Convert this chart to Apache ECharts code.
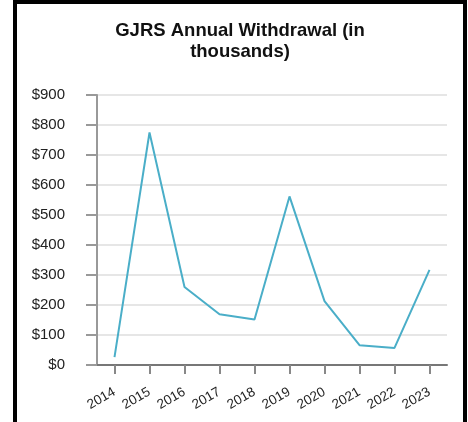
<!DOCTYPE html>
<html>
<head>
<meta charset="utf-8">
<script src="https://cdn.jsdelivr.net/npm/echarts@6/dist/echarts.min.js"></script>
<style>
  html, body { margin: 0; padding: 0; background: #fff; }
  #chart { width: 468px; height: 422px; }
</style>
</head>
<body>
<div id="chart"></div>
<script>
// Annual withdrawals, in thousands of dollars
const years = ['2014', '2015', '2016', '2017', '2018', '2019', '2020', '2021', '2022', '2023'];
const withdrawals = [26, 775, 260, 169, 152, 562, 213, 66, 57, 317];
const yTicks = { min: 0, max: 900, step: 100 };

const chart = echarts.init(document.getElementById('chart'), null, { renderer: 'canvas' });

chart.setOption({
  animation: false,
  backgroundColor: '#ffffff',
  title: {
    text: 'GJRS Annual Withdrawal (in\nthousands)',
    left: 235,
    top: 15,
    textAlign: 'center',
    textStyle: {
      fontFamily: 'Liberation Sans, Arial, sans-serif',
      fontSize: 18.5,
      fontWeight: 'bold',
      color: '#111',
      lineHeight: 21
    }
  },
  graphic: [{
    type: 'rect',
    shape: { x: 15, y: 2, width: 450, height: 460 },
    style: { fill: 'none', stroke: '#000', lineWidth: 4 },
    silent: true
  }],
  grid: { left: 97, right: 21, top: 95, bottom: 57 },
  xAxis: {
    type: 'category',
    data: years,
    boundaryGap: true,
    axisLine: { show: true, lineStyle: { color: '#777', width: 2 } },
    axisTick: { show: true, alignWithLabel: true, interval: 0, length: 9, lineStyle: { color: '#888', width: 2 } },
    axisLabel: {
      interval: 0,
      rotate: 30,
      margin: 26,
      fontFamily: 'Liberation Sans, Arial, sans-serif',
      fontSize: 13.5,
      color: '#222'
    },
    splitLine: { show: false }
  },
  yAxis: {
    type: 'value',
    min: yTicks.min,
    max: yTicks.max,
    interval: yTicks.step,
    axisLine: { show: true, lineStyle: { color: '#999', width: 2 } },
    axisTick: { show: true, length: 11, lineStyle: { color: '#999', width: 2 } },
    axisLabel: {
      margin: 32,
      formatter: v => '$' + v,
      fontFamily: 'Liberation Sans, Arial, sans-serif',
      fontSize: 15,
      color: '#222'
    },
    splitLine: { show: true, lineStyle: { color: '#e6e6e6', width: 2 } }
  },
  series: [{
    type: 'line',
    data: withdrawals,
    symbol: 'none',
    lineStyle: { color: '#4aaec8', width: 2 },
    itemStyle: { color: '#4aaec8' }
  }]
});
</script>
</body>
</html>
